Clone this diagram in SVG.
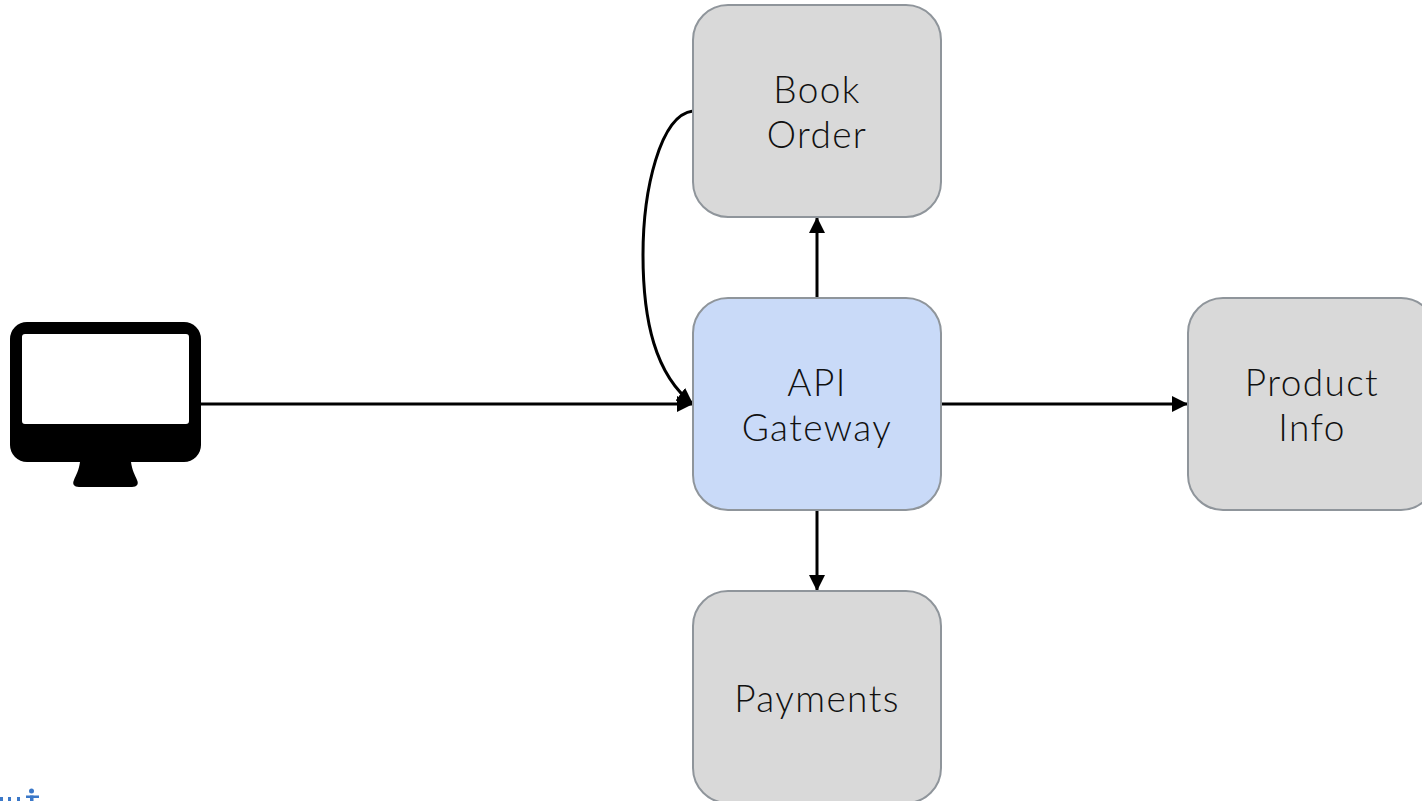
<svg xmlns="http://www.w3.org/2000/svg" width="1422" height="801" viewBox="0 0 1422 801">
<style>
.box{stroke:#8f959b;stroke-width:2}
.gray{fill:#d9d9d9}
.blue{fill:#c9daf8}
.t{font-family:"Lato","Liberation Sans",sans-serif;font-weight:300;font-size:37px;fill:#111;text-anchor:middle;letter-spacing:1.4px}
.c{fill:none;stroke:#000;stroke-width:3}
</style>
<defs>
<marker id="a" markerUnits="userSpaceOnUse" markerWidth="16" markerHeight="16" refX="16" refY="8" orient="auto"><path d="M0 0L16 8L0 16Z" fill="#000"/></marker>
</defs>
<rect width="1422" height="801" fill="#fff"/>
<g id="connectors">
<path class="c" marker-end="url(#a)" d="M200 404H693"/>
<path class="c" marker-end="url(#a)" d="M941 404H1188"/>
<path class="c" marker-end="url(#a)" d="M817 298V217"/>
<path class="c" marker-end="url(#a)" d="M817 510V591"/>
<path class="c" marker-end="url(#a)" d="M693 111C660 115 643 190 643 255C643 320 655 375 693 404"/>
</g>
<g id="client">
<path fill="#000" fill-rule="evenodd" d="M27 322H184A17 17 0 0 1 201 339V445A17 17 0 0 1 184 462H131C132 470 135 475 137 480C139 484 137 487 132 487H79C74 487 72 484 74 480C76 475 79 470 80 462H27A17 17 0 0 1 10 445V339A17 17 0 0 1 27 322ZM25 334A3 3 0 0 0 22 337V421A3 3 0 0 0 25 424H186A3 3 0 0 0 189 421V337A3 3 0 0 0 186 334Z"/>
</g>
<g id="book-order"><rect class="box gray" x="693" y="5" width="248" height="212" rx="35"/><text class="t" x="817" y="102.500">Book</text><text class="t" x="817" y="147.500">Order</text></g>
<g id="api-gateway"><rect class="box blue" x="693" y="298" width="248" height="212" rx="35"/><text class="t" x="817" y="395.500">API</text><text class="t" x="817" y="440.500">Gateway</text></g>
<g id="product-info"><rect class="box gray" x="1188" y="298" width="248" height="212" rx="35"/><text class="t" x="1312" y="395.500">Product</text><text class="t" x="1312" y="440.500">Info</text></g>
<g id="payments"><rect class="box gray" x="693" y="591" width="248" height="212" rx="35"/><text class="t" x="817" y="711.500">Payments</text></g>
<g id="logo-fragment" fill="#3b78c8">
<circle cx="31.500" cy="791" r="2.500"/>
<rect x="26" y="795.500" width="13" height="2.500"/>
<rect x="30" y="795.500" width="3.500" height="6"/>
<rect x="0" y="797" width="3" height="4"/>
<rect x="8" y="797" width="3" height="4"/>
<rect x="17" y="797" width="3" height="4"/>
</g>
</svg>
